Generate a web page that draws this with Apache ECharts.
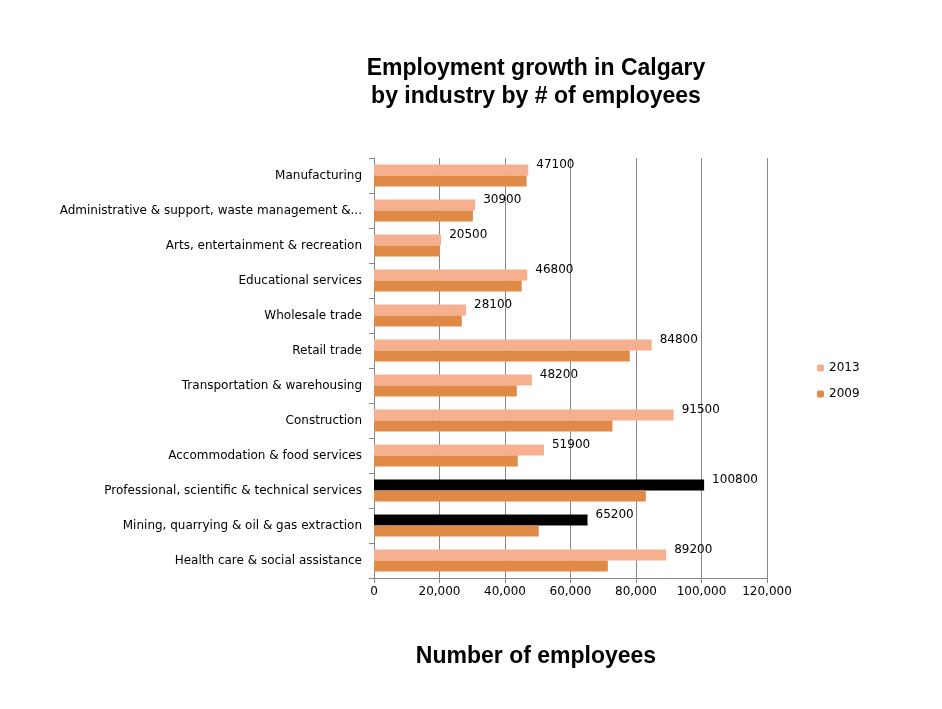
<!DOCTYPE html>
<html>
<head>
<meta charset="utf-8">
<script src="https://cdn.jsdelivr.net/npm/echarts@6/dist/echarts.min.js"></script>
<style>html,body{margin:0;padding:0;background:#fff}#chart{width:942px;height:709px}</style>
</head>
<body>
<div id="chart"></div>
<script>
// categories top to bottom
var categories = [
  'Manufacturing',
  'Administrative & support, waste management &...',
  'Arts, entertainment & recreation',
  'Educational services',
  'Wholesale trade',
  'Retail trade',
  'Transportation & warehousing',
  'Construction',
  'Accommodation & food services',
  'Professional, scientific & technical services',
  'Mining, quarrying & oil & gas extraction',
  'Health care & social assistance'
];
var values2013 = [47100, 30900, 20500, 46800, 28100, 84800, 48200, 91500, 51900, 100800, 65200, 89200];
var values2009 = [46600, 30200, 20100, 45100, 26800, 78100, 43600, 72800, 43900, 83000, 50300, 71400];
var highlighted = ['Professional, scientific & technical services', 'Mining, quarrying & oil & gas extraction'];

var chart = echarts.init(document.getElementById('chart'));
var font = 'DejaVu Sans';
chart.setOption({
  animation: false,
  title: [{
    text: 'Employment growth in Calgary\nby industry by # of employees',
    left: 531, top: 50, textAlign: 'center',
    textStyle: {fontFamily: 'Liberation Sans', fontWeight: 'bold', fontSize: 23, lineHeight: 28, color: '#000'}
  }, {
    text: 'Number of employees',
    left: 531, top: 640, textAlign: 'center',
    textStyle: {fontFamily: 'Liberation Sans', fontWeight: 'bold', fontSize: 23, color: '#000'}
  }],
  legend: {
    orient: 'vertical', left: 812, top: 357, itemWidth: 7, itemHeight: 7, itemGap: 14,
    data: ['2013', '2009'],
    textStyle: {fontFamily: font, fontSize: 12, color: '#000'}
  },
  grid: {left: 374, right: 175, top: 158, bottom: 131, containLabel: false},
  xAxis: {
    type: 'value', min: 0, max: 120000, interval: 20000,
    axisLine: {show: true, lineStyle: {color: '#888'}},
    axisTick: {show: true, lineStyle: {color: '#888'}},
    splitLine: {lineStyle: {color: '#888'}},
    axisLabel: {fontFamily: font, fontSize: 12, color: '#000'}
  },
  yAxis: {
    type: 'category', inverse: true, data: categories,
    axisLine: {lineStyle: {color: '#888'}},
    axisTick: {show: true, lineStyle: {color: '#888'}},
    axisLabel: {fontFamily: font, fontSize: 12, color: '#000', margin: 12}
  },
  series: [{
    name: '2013', type: 'bar', barWidth: 11, barGap: '0%', barCategoryGap: '35%',
    itemStyle: {color: '#F7B08F'},
    data: values2013.map(function (v, i) {
      return highlighted.indexOf(categories[i]) >= 0 ? {value: v, itemStyle: {color: '#000'}} : v;
    }),
    label: {show: true, position: 'right', distance: 8, offset: [0, -5], fontFamily: font, fontSize: 12, color: '#000'}
  }, {
    name: '2009', type: 'bar', barWidth: 11,
    itemStyle: {color: '#E08A48'},
    data: values2009
  }]
});
</script>
</body>
</html>
